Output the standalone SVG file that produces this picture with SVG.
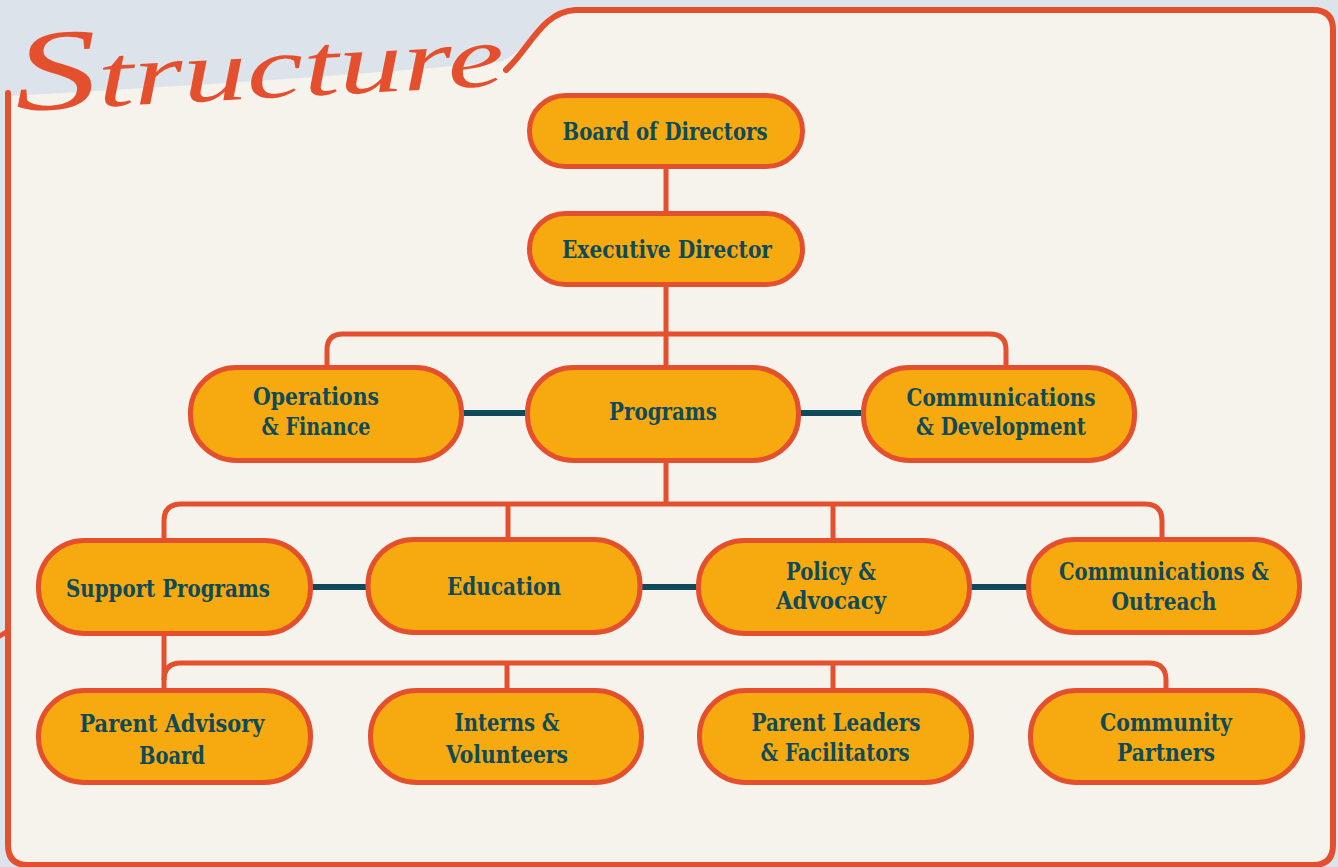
<svg xmlns="http://www.w3.org/2000/svg" width="1338" height="867" viewBox="0 0 1338 867">
<defs>
<style>
.node rect{fill:#F6AA10;stroke:#E4502E;stroke-width:5}
.node text{font-family:"DejaVu Serif Condensed","DejaVu Serif",serif;font-weight:bold;font-size:25px;fill:#0E4A5A;text-anchor:middle}
.conn path{fill:none;stroke:#E4502E;stroke-width:5}
.conn path.teal{stroke:#0E4A5A;stroke-width:6}
</style>
</defs>
<rect x="0" y="0" width="1338" height="867" fill="#DDE3EA"/>
<path d="M8,96 C150,88 350,76 500,62 C530,50 545,12 575,10 L1313,10 Q1333,10 1333,30 L1333,845 Q1333,865 1313,865 L28,865 Q8,865 8,845 Z" fill="#F6F3EC"/>
<path d="M8,93 L8,845 Q8,865 28,865 L1313,865 Q1333,865 1333,845 L1333,30 Q1333,10 1313,10 L575,10 C542,12 530,48 506,70" fill="none" stroke="#E4502E" stroke-width="6" stroke-linecap="round"/>
<path d="M0,636 L8,631" fill="none" stroke="#E4502E" stroke-width="5" stroke-linecap="round"/>
<text x="16" y="111" transform="rotate(-3 16 111)" font-family="Liberation Serif" font-style="italic" fill="#E4502E" textLength="490" lengthAdjust="spacingAndGlyphs"><tspan font-size="115">S</tspan><tspan font-size="88">tructure</tspan></text>
<g id="connectors" class="conn">
<path d="M666,169 V211"/>
<path d="M666,287 V504"/>
<path d="M327,365 V350 Q327,334 343,334 H990 Q1006,334 1006,350 V365"/>
<path d="M164,538 V521 Q164,504 181,504 H1145 Q1162,504 1162,521 V537"/>
<path d="M508,504 V537"/>
<path d="M833,504 V539"/>
<path d="M164,636 V688"/>
<path d="M164,680 Q164,663 181,663 H1149 Q1166,663 1166,680 V688"/>
<path d="M507,663 V688"/>
<path d="M833,663 V688"/>
<path class="teal" d="M462,413 H527"/>
<path class="teal" d="M799,413 H863"/>
<path class="teal" d="M311,587 H368"/>
<path class="teal" d="M640,587 H698"/>
<path class="teal" d="M969,587 H1028"/>
</g>
<g id="board" class="node"><rect x="529.5" y="95.5" width="273" height="71" rx="36" ry="35"/><text x="665" y="140" textLength="205" lengthAdjust="spacingAndGlyphs">Board of Directors</text></g>
<g id="executive" class="node"><rect x="529.5" y="213.5" width="273" height="71" rx="36" ry="35"/><text x="667" y="258" textLength="210" lengthAdjust="spacingAndGlyphs">Executive Director</text></g>
<g id="operations" class="node"><rect x="190.5" y="367.5" width="271" height="93" rx="46" ry="45"/><text x="316" y="405" textLength="126" lengthAdjust="spacingAndGlyphs">Operations</text><text x="316" y="435" textLength="109" lengthAdjust="spacingAndGlyphs">&amp; Finance</text></g>
<g id="programs" class="node"><rect x="527.5" y="367.5" width="271" height="93" rx="46" ry="45"/><text x="663" y="420" textLength="108" lengthAdjust="spacingAndGlyphs">Programs</text></g>
<g id="comm-dev" class="node"><rect x="863.5" y="367.5" width="271" height="93" rx="46" ry="45"/><text x="1001" y="406" textLength="189" lengthAdjust="spacingAndGlyphs">Communications</text><text x="1001" y="435" textLength="170" lengthAdjust="spacingAndGlyphs">&amp; Development</text></g>
<g id="support" class="node"><rect x="38.5" y="540.5" width="272" height="93" rx="46" ry="45"/><text x="168" y="597" textLength="204" lengthAdjust="spacingAndGlyphs">Support Programs</text></g>
<g id="education" class="node"><rect x="368" y="539.5" width="272" height="93" rx="46" ry="45"/><text x="504" y="595" textLength="114" lengthAdjust="spacingAndGlyphs">Education</text></g>
<g id="policy" class="node"><rect x="698.5" y="540.5" width="271" height="93" rx="46" ry="45"/><text x="831" y="580" textLength="90" lengthAdjust="spacingAndGlyphs">Policy &amp;</text><text x="831" y="609" textLength="110" lengthAdjust="spacingAndGlyphs">Advocacy</text></g>
<g id="comm-outreach" class="node"><rect x="1028.5" y="539.5" width="271" height="93" rx="46" ry="45"/><text x="1164" y="580" textLength="210" lengthAdjust="spacingAndGlyphs">Communications &amp;</text><text x="1164" y="610" textLength="105" lengthAdjust="spacingAndGlyphs">Outreach</text></g>
<g id="parent-advisory" class="node"><rect x="38.5" y="690.5" width="272" height="92" rx="46" ry="45"/><text x="172" y="732" textLength="185" lengthAdjust="spacingAndGlyphs">Parent Advisory</text><text x="172" y="764" textLength="66" lengthAdjust="spacingAndGlyphs">Board</text></g>
<g id="interns" class="node"><rect x="370.5" y="690.5" width="271" height="92" rx="46" ry="45"/><text x="507" y="731" textLength="105" lengthAdjust="spacingAndGlyphs">Interns &amp;</text><text x="507" y="763" textLength="122" lengthAdjust="spacingAndGlyphs">Volunteers</text></g>
<g id="parent-leaders" class="node"><rect x="699.5" y="690.5" width="272" height="92" rx="46" ry="45"/><text x="836" y="731" textLength="169" lengthAdjust="spacingAndGlyphs">Parent Leaders</text><text x="835" y="761" textLength="149" lengthAdjust="spacingAndGlyphs">&amp; Facilitators</text></g>
<g id="community" class="node"><rect x="1030.5" y="690.5" width="272" height="92" rx="46" ry="45"/><text x="1166" y="731" textLength="132" lengthAdjust="spacingAndGlyphs">Community</text><text x="1166" y="761" textLength="98" lengthAdjust="spacingAndGlyphs">Partners</text></g>
</svg>
